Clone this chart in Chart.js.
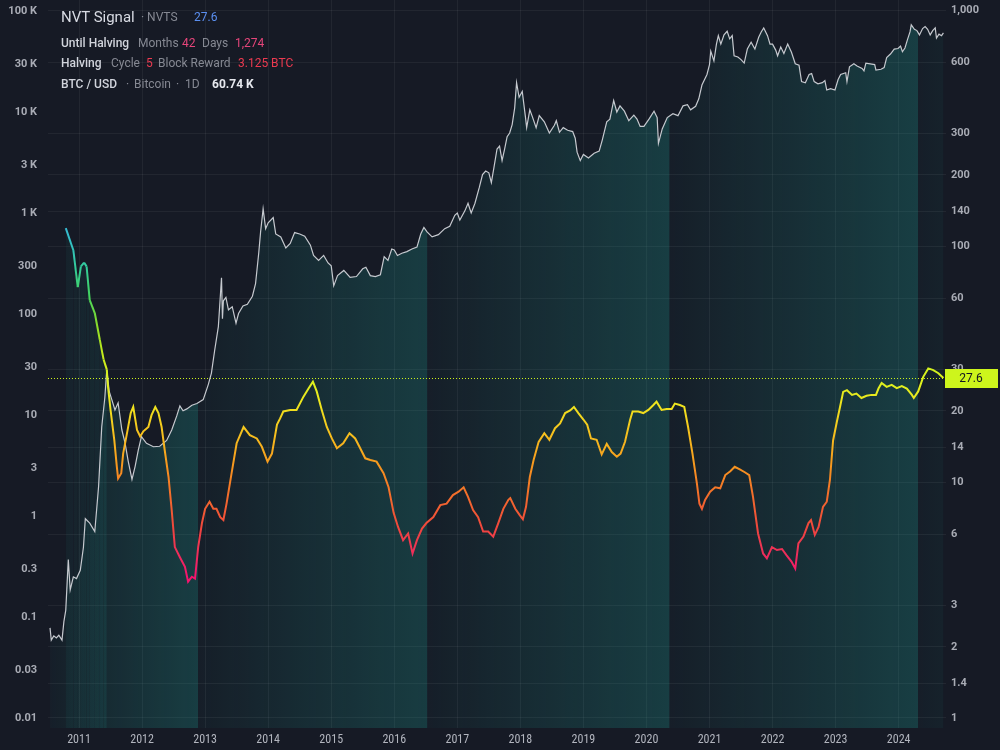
<!DOCTYPE html>
<html><head><meta charset="utf-8">
<script src="https://cdn.jsdelivr.net/npm/chart.js@4.4.1/dist/chart.umd.min.js"></script>
<style>
html,body{margin:0;padding:0;background:#161a25;overflow:hidden}
#wrap{position:relative;width:1000px;height:750px}
canvas{display:block}
.t{position:absolute;white-space:nowrap;font-family:Roboto,"Liberation Sans",Arial,sans-serif;font-size:12px;line-height:16px;color:#868993}
.w{color:#d1d4dc;font-weight:500}
.p{color:#e6457a}
.r{color:#ec3a50}
</style></head>
<body><div id="wrap">
<canvas id="c" width="1000" height="750"></canvas>
<span class="t w" style="left:61px;top:8px;font-size:15px;line-height:18px;font-weight:400;color:#d8dbe3">NVT Signal</span>
<span class="t" style="left:141px;top:9px">· NVTS</span>
<span class="t" style="left:194px;top:9px;color:#5b8ff0">27.6</span>
<span class="t w" style="left:61px;top:35px">Until Halving</span>
<span class="t" style="left:138px;top:35px">Months</span>
<span class="t p" style="left:182px;top:35px">42</span>
<span class="t" style="left:202px;top:35px">Days</span>
<span class="t p" style="left:235px;top:35px">1,274</span>
<span class="t w" style="left:61px;top:55px">Halving</span>
<span class="t" style="left:111px;top:55px">Cycle</span>
<span class="t r" style="left:146px;top:55px">5</span>
<span class="t" style="left:158px;top:55px">Block Reward</span>
<span class="t r" style="left:238px;top:55px">3.125 BTC</span>
<span class="t w" style="left:61px;top:76px">BTC / USD</span>
<span class="t" style="left:126px;top:76px">·</span>
<span class="t" style="left:134px;top:76px">Bitcoin</span>
<span class="t" style="left:176px;top:76px">·</span>
<span class="t" style="left:185px;top:76px">1D</span>
<span class="t w" style="left:212px;top:76px;font-weight:700;color:#e6e8ee">60.74 K</span>
</div>
<script>
// ---------- data ----------
const yearTicks = [2011,2012,2013,2014,2015,2016,2017,2018,2019,2020,2021,2022,2023,2024];
const priceTicks = [100000,30000,10000,3000,1000,300,100,30,10,3,1,0.3,0.1,0.03,0.01];
const nvtsTicks = [1000,600,300,200,140,100,60,30,20,14,10,6,3,2,1.4,1];
const halvings = [2009.0, 2012.88, 2016.52, 2020.36, 2024.30];

const nvtsYears = [2010.79,2010.91,2010.98,2011.03,2011.08,2011.12,2011.17,2011.25,2011.33,2011.39,2011.44,2011.46,2011.50,2011.56,2011.60,2011.62,2011.67,2011.70,2011.77,2011.82,2011.86,2011.92,2011.97,2012.02,2012.10,2012.15,2012.21,2012.26,2012.31,2012.36,2012.42,2012.47,2012.52,2012.60,2012.68,2012.73,2012.79,2012.84,2012.89,2012.95,2013.00,2013.07,2013.13,2013.18,2013.24,2013.29,2013.34,2013.42,2013.50,2013.61,2013.71,2013.82,2013.90,2013.99,2014.06,2014.14,2014.19,2014.24,2014.35,2014.45,2014.56,2014.64,2014.71,2014.77,2014.85,2014.93,2015.01,2015.09,2015.19,2015.29,2015.38,2015.46,2015.54,2015.62,2015.72,2015.83,2015.91,2015.99,2016.06,2016.14,2016.22,2016.29,2016.36,2016.44,2016.51,2016.62,2016.73,2016.83,2016.93,2017.02,2017.10,2017.17,2017.25,2017.33,2017.41,2017.49,2017.57,2017.65,2017.73,2017.81,2017.84,2017.92,2017.99,2018.04,2018.09,2018.15,2018.21,2018.29,2018.38,2018.46,2018.55,2018.63,2018.71,2018.79,2018.85,2018.92,2019.00,2019.06,2019.12,2019.21,2019.29,2019.37,2019.45,2019.53,2019.59,2019.66,2019.74,2019.78,2019.87,2019.95,2020.03,2020.11,2020.16,2020.24,2020.32,2020.40,2020.45,2020.53,2020.60,2020.66,2020.73,2020.80,2020.84,2020.88,2020.93,2021.01,2021.09,2021.17,2021.25,2021.33,2021.40,2021.48,2021.56,2021.63,2021.69,2021.77,2021.85,2021.91,2021.99,2022.07,2022.15,2022.22,2022.30,2022.36,2022.41,2022.49,2022.57,2022.61,2022.67,2022.73,2022.80,2022.86,2022.91,2022.96,2023.02,2023.07,2023.12,2023.18,2023.26,2023.33,2023.41,2023.49,2023.57,2023.64,2023.68,2023.73,2023.81,2023.89,2023.97,2024.05,2024.13,2024.21,2024.24,2024.31,2024.39,2024.47,2024.55,2024.63,2024.71];
const nvtsValues = [119,96,67,82,85,82,59,52,40,33,30,25.3,20.2,15.0,11.6,10.35,10.9,13.2,16.6,19.6,20.8,16.6,15.6,16.4,17.1,19.2,20.8,19.6,17.1,13.6,10.5,7.6,5.3,4.8,4.37,3.78,3.97,3.9,5.3,6.7,7.7,8.25,7.7,7.7,7.1,6.9,8.1,10.9,14.6,17.1,15.8,15.3,14.1,12.2,13.2,17.5,18.6,19.9,20.2,20.2,23.0,24.9,26.6,24.2,20.2,17.1,15.3,13.9,14.6,16.1,15.3,13.9,12.6,12.4,12.2,10.9,9.5,7.4,6.45,5.67,6.05,4.98,5.67,6.35,6.7,7.1,7.98,8.1,8.8,9.1,9.5,8.65,7.6,7.1,6.17,6.17,5.87,6.7,7.7,8.4,8.55,7.7,7.24,6.95,7.85,10.5,12.4,14.8,16.1,15.1,16.9,17.7,19.6,20.1,20.8,19.6,18.4,17.5,15.3,15.1,13.1,14.5,13.4,12.8,13.2,14.8,18.3,19.9,19.9,19.6,20.2,21.2,21.9,20.2,20.4,20.4,21.5,21.2,20.8,17.1,13.2,9.86,8.1,7.7,8.4,9.1,9.5,9.4,10.7,11.1,11.6,11.3,11.0,10.7,8.65,6.05,4.98,4.75,5.3,5.15,5.2,4.9,4.6,4.3,5.5,5.87,6.7,6.9,5.97,6.45,7.85,8.25,10.2,15.0,18.0,20.8,24.1,24.5,23.4,23.7,22.7,23.2,23.4,23.4,24.9,26.3,25.3,25.8,25.0,25.5,24.9,23.4,22.7,24.2,27.9,30.3,29.8,28.9,27.6];

const btcYears = [2010.54,2010.56,2010.60,2010.64,2010.68,2010.73,2010.76,2010.79,2010.83,2010.86,2010.91,2010.96,2011.02,2011.07,2011.10,2011.17,2011.25,2011.31,2011.36,2011.41,2011.44,2011.48,2011.52,2011.57,2011.62,2011.68,2011.73,2011.78,2011.84,2011.89,2011.94,2011.99,2012.07,2012.18,2012.28,2012.39,2012.47,2012.55,2012.60,2012.65,2012.71,2012.79,2012.87,2012.97,2013.05,2013.10,2013.15,2013.21,2013.26,2013.275,2013.29,2013.33,2013.37,2013.43,2013.49,2013.53,2013.60,2013.67,2013.75,2013.80,2013.85,2013.88,2013.92,2013.96,2014.00,2014.08,2014.12,2014.20,2014.28,2014.35,2014.42,2014.50,2014.58,2014.67,2014.72,2014.80,2014.88,2014.95,2015.00,2015.04,2015.10,2015.20,2015.30,2015.40,2015.50,2015.55,2015.62,2015.70,2015.78,2015.84,2015.90,2015.96,2016.00,2016.05,2016.12,2016.20,2016.28,2016.36,2016.42,2016.47,2016.52,2016.60,2016.70,2016.80,2016.88,2016.96,2017.00,2017.04,2017.12,2017.17,2017.22,2017.28,2017.35,2017.40,2017.45,2017.50,2017.54,2017.58,2017.63,2017.67,2017.71,2017.75,2017.79,2017.83,2017.87,2017.91,2017.94,2017.98,2018.03,2018.08,2018.10,2018.15,2018.19,2018.25,2018.30,2018.38,2018.46,2018.54,2018.57,2018.62,2018.68,2018.75,2018.83,2018.87,2018.90,2018.95,2019.00,2019.08,2019.17,2019.25,2019.30,2019.37,2019.42,2019.48,2019.53,2019.58,2019.65,2019.72,2019.80,2019.85,2019.90,2019.96,2020.04,2020.12,2020.17,2020.19,2020.25,2020.33,2020.42,2020.50,2020.58,2020.65,2020.70,2020.78,2020.83,2020.88,2020.96,2021.00,2021.02,2021.07,2021.11,2021.14,2021.18,2021.23,2021.28,2021.32,2021.36,2021.39,2021.45,2021.50,2021.55,2021.60,2021.66,2021.72,2021.78,2021.82,2021.86,2021.92,2021.96,2022.00,2022.05,2022.08,2022.13,2022.18,2022.24,2022.30,2022.36,2022.42,2022.46,2022.52,2022.58,2022.62,2022.66,2022.72,2022.79,2022.83,2022.86,2022.92,2022.99,2023.04,2023.08,2023.16,2023.18,2023.22,2023.29,2023.34,2023.42,2023.45,2023.48,2023.55,2023.62,2023.64,2023.72,2023.77,2023.81,2023.87,2023.93,2023.99,2024.03,2024.06,2024.10,2024.14,2024.18,2024.20,2024.25,2024.29,2024.33,2024.38,2024.42,2024.46,2024.50,2024.54,2024.58,2024.60,2024.64,2024.68,2024.71];
const btcPrices = [0.078,0.059,0.065,0.062,0.066,0.059,0.09,0.117,0.37,0.185,0.25,0.24,0.29,0.49,0.94,0.85,0.70,1.95,7.6,15,28,17,14.2,11.2,13.2,7.1,5.3,3.5,2.3,3.1,4.5,6.1,5.25,4.85,4.9,5.6,7.1,9.8,12.3,11.0,11.5,12.5,13.0,14.2,20,26,43,75,228,90,135,146,110,118,81,101,120,125,150,200,400,650,1100,700,800,900,620,580,450,500,640,620,590,480,380,340,380,320,300,190,240,270,230,235,280,290,240,235,245,370,340,440,430,380,400,415,440,460,620,720,650,580,610,700,740,950,1000,850,1050,1250,1000,1250,1800,2400,2600,2500,2000,2800,4300,4600,3300,4300,5700,6200,7500,11000,19500,14000,16000,9000,7000,10500,9000,7000,9200,8000,6200,7400,8200,6300,7000,6600,6400,5500,4000,3300,3800,3500,3900,4100,5300,8000,8500,13000,10000,11500,10200,8200,9300,8500,7200,7200,8500,10200,8800,4900,6800,8800,9600,9200,11500,11800,10500,11400,13500,18500,23500,29500,40000,32000,47000,57000,47000,58000,63000,53000,57000,36000,35000,33000,30500,42000,49000,42000,55000,62000,68000,57000,47000,47000,41000,36000,44000,38000,47000,39000,30000,29000,20000,19500,23500,24000,20000,19000,19500,20500,16500,17000,16500,21000,23500,24500,20000,28000,30000,28500,27000,25500,30500,30000,29500,26000,26500,27500,34500,37500,42000,42500,45000,39500,43000,52000,62000,73000,66000,64000,58000,67000,70000,66000,58000,64000,68000,54000,59000,57000,60740];

const lastNvts = nvtsValues[nvtsValues.length - 1];

// ---------- styling helpers ----------
const X_MIN = 2010.508, X_MAX = 2024.751;
const P_MIN = 0.00796, P_MAX = 128500;
const N_MIN = 0.907, N_MAX = 1102.8;
const nvtsColorStops = [[130,'#38b6dc'],[100,'#33c2c0'],[80,'#34cc98'],[62,'#42d460'],[46,'#8ade2a'],[35,'#c4ec1c'],[27,'#dcf21e'],[21,'#f0e41e'],[16,'#f6c01e'],[12,'#f79a1e'],[9,'#f4702a'],[6.5,'#f0483c'],[5,'#ee2e5a'],[4,'#f6146e']];

function nvtsGradient(chart){
  const a = chart.chartArea; if (!a) return '#ddd';
  const s = chart.scales.y1;
  const g = chart.ctx.createLinearGradient(0, a.top, 0, a.bottom);
  nvtsColorStops.forEach(([v,c]) => {
    const off = (s.getPixelForValue(v) - a.top) / (a.bottom - a.top);
    g.addColorStop(Math.min(1, Math.max(0, off)), c);
  });
  return g;
}
function cycleFill(chart){
  const a = chart.chartArea; if (!a) return 'rgba(0,0,0,0)';
  const x = chart.scales.x;
  const g = chart.ctx.createLinearGradient(a.left, 0, a.right, 0);
  const f = v => Math.min(1, Math.max(0, (x.getPixelForValue(v) - a.left) / a.width));
  const col = t => 'rgba(30,150,140,' + (0.04 + 0.26 * Math.min(1, t / 4)).toFixed(3) + ')';
  for (let i = 0; i < halvings.length; i++) {
    const s = halvings[i];
    const e = i + 1 < halvings.length ? halvings[i + 1] : X_MAX;
    g.addColorStop(Math.min(1, f(s) + (i ? 0.0006 : 0)), col(0));
    g.addColorStop(f(e), col(e - s));
  }
  return g;
}

const priceLine = {
  id: 'priceLine',
  beforeDatasetsDraw(chart){
    const {ctx, chartArea:a} = chart;
    const y = Math.round(chart.scales.y1.getPixelForValue(lastNvts)) + 0.5;
    ctx.save();
    ctx.strokeStyle = '#cdf21c'; ctx.lineWidth = 1; ctx.setLineDash([1,2]);
    ctx.beginPath(); ctx.moveTo(a.left, y); ctx.lineTo(a.right, y); ctx.stroke();
    ctx.restore();
  },
  afterDatasetsDraw(chart){
    const {ctx, chartArea:a} = chart;
    const y = chart.scales.y1.getPixelForValue(lastNvts);
    ctx.save();
    ctx.fillStyle = '#cdf51c';
    ctx.fillRect(a.right - 1, Math.round(y) - 9, 53, 19);
    ctx.fillStyle = '#131722';
    ctx.font = '12px Roboto, "Liberation Sans", Arial, sans-serif';
    ctx.textAlign = 'center'; ctx.textBaseline = 'middle';
    ctx.fillText(String(lastNvts), a.right + 25, Math.round(y) + 1);
    ctx.restore();
  }
};

const tickFont = {family: 'Roboto, "Liberation Sans", Arial, sans-serif', size: 11, weight: 'bold'};
const fmtPrice = v => v >= 1000 ? (v / 1000) + ' K' : String(v);
const fmtNvts = v => v >= 1000 ? v.toLocaleString('en-US') : String(v);

new Chart(document.getElementById('c'), {
  type: 'line',
  data: {
    datasets: [
      {
        label: 'NVTS', yAxisID: 'y1',
        data: nvtsYears.map((x, i) => ({x, y: nvtsValues[i]})),
        borderColor: c => nvtsGradient(c.chart), borderWidth: 2,
        pointRadius: 0, tension: 0, fill: 'start',
        backgroundColor: 'rgba(0,0,0,0)',
        segment: { backgroundColor: c => c.p1.parsed.x <= 2011.45 ? cycleFill(c.chart) : 'rgba(0,0,0,0)' }
      },
      {
        label: 'BTC', yAxisID: 'y',
        data: btcYears.map((x, i) => ({x, y: btcPrices[i]})),
        borderColor: '#c6c9cf', borderWidth: 1.2,
        pointRadius: 0, tension: 0, fill: 'start',
        backgroundColor: c => cycleFill(c.chart)
      }
    ]
  },
  options: {
    responsive: false, animation: false, events: [],
    layout: {padding: 0},
    plugins: {legend: {display: false}, tooltip: {enabled: false}, filler: {drawTime: 'beforeDatasetsDraw'}},
    scales: {
      x: {
        type: 'linear', min: X_MIN, max: X_MAX,
        afterBuildTicks: s => { s.ticks = yearTicks.map(v => ({value: v})); },
        afterFit: s => { s.height = 22; s.paddingLeft = 0; s.paddingRight = 0; },
        grid: {color: 'rgba(255,255,255,0.055)', drawTicks: false},
        border: {display: false},
        ticks: {color: '#b2b5be', padding: 5, autoSkip: false, maxRotation: 0,
          font: {family: '"Liberation Sans Narrow", "Roboto Condensed", Roboto, sans-serif', size: 12},
          callback: v => String(v)}
      },
      y: {
        type: 'logarithmic', position: 'left', min: P_MIN, max: P_MAX,
        afterBuildTicks: s => { s.ticks = priceTicks.map(v => ({value: v})); },
        afterFit: s => { s.width = 48; s.paddingTop = 0; s.paddingBottom = 0; },
        grid: {display: false}, border: {display: false},
        ticks: {color: '#a9acb5', padding: 3, autoSkip: false, font: tickFont, callback: v => fmtPrice(v)}
      },
      y1: {
        type: 'logarithmic', position: 'right', min: N_MIN, max: N_MAX,
        afterBuildTicks: s => { s.ticks = nvtsTicks.map(v => ({value: v})); },
        afterFit: s => { s.width = 54; s.paddingTop = 0; s.paddingBottom = 0; },
        grid: {color: 'rgba(255,255,255,0.055)', drawTicks: false}, border: {display: false},
        ticks: {color: '#a9acb5', padding: 5, autoSkip: false, font: tickFont, callback: v => fmtNvts(v)}
      }
    }
  },
  plugins: [priceLine]
});
</script>
</body></html>
